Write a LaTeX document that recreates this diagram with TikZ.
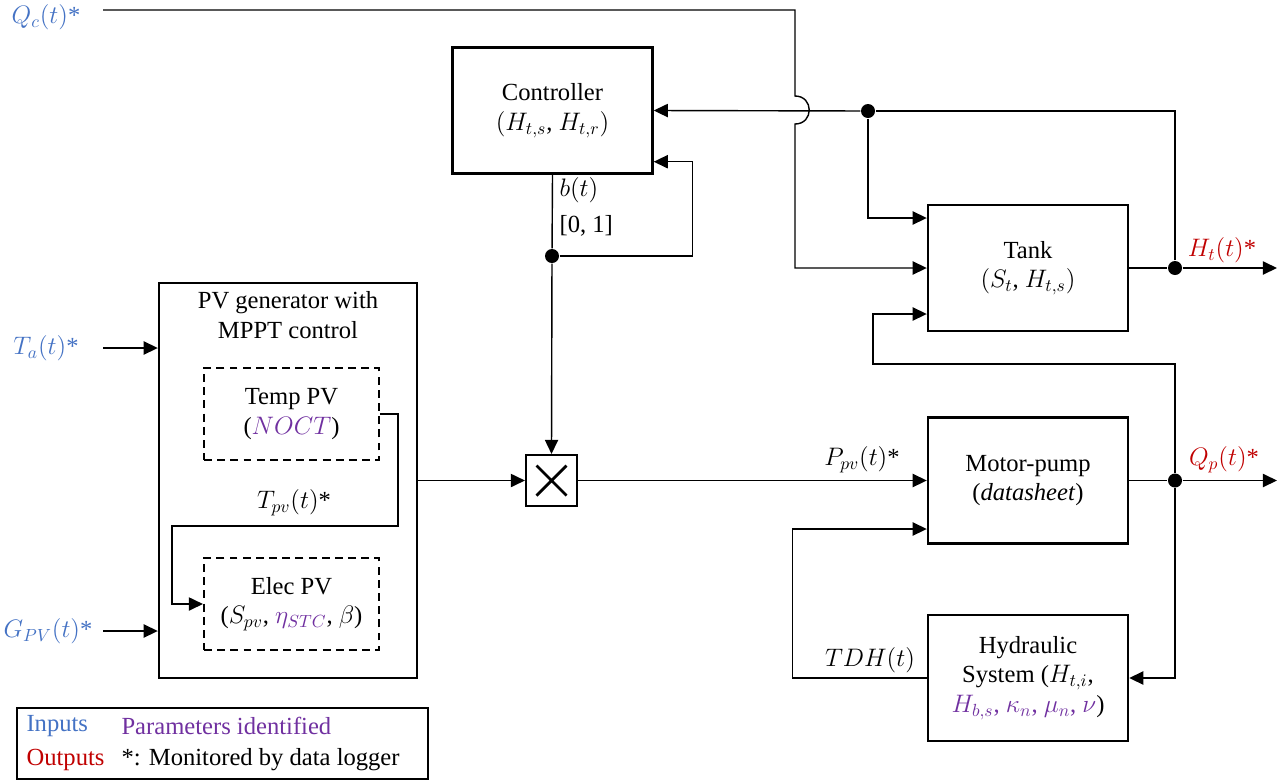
\documentclass[tikz,border=0pt]{standalone}
\usepackage{fontspec}
\setmainfont{Liberation Serif}
\usetikzlibrary{arrows.meta, positioning, calc}
\definecolor{inblue}{RGB}{68,114,196}
\definecolor{outred}{RGB}{192,0,0}
\definecolor{parpurple}{RGB}{112,48,160}

\begin{document}
\begin{tikzpicture}[x=0.02cm, y=-0.02cm, font=\fontsize{14}{17}\selectfont,
    >={Triangle[length=8pt,width=7.5pt]}, line width=0.8pt,
    blk/.style={draw, line width=1.4pt, minimum width=4cm, minimum height=2.52cm, align=center},
    dbox/.style={draw, line width=1.2pt, dash pattern=on 4.5pt off 3pt, minimum width=3.5cm, minimum height=1.84cm, align=center},
    dot/.style={circle, fill, inner sep=0pt, minimum size=0.28cm}]
    \useasboundingbox (0,0) rectangle (1279,782);
    % blocks
    \node[blk] (ctrl) at (552.5,110.5) {Controller\\$(H_{t,s}$, $H_{t,r})$};
    \node[blk] (tank) at (1028,268) {Tank\\$(S_t$, $H_{t,s})$};
    \node[blk] (pump) at (1028,480.5) {Motor-pump\\(\textit{datasheet})};
    \node[blk] (hyd) at (1028,678) {Hydraulic\\System ($H_{t,i}$,\\\textcolor{parpurple}{$H_{b,s}$, $\kappa_n$, $\mu_n$, $\nu$})};
    \node[draw, line width=1.4pt, minimum width=5.16cm, minimum height=7.9cm] (pv) at (288,480.5) {};
    \node[align=center, below=2pt of pv.north] (pvtitle) {PV generator with\\MPPT control};
    \node[dbox] (temp) at (291.5,414) {Temp PV\\(\textcolor{parpurple}{$NOCT$})};
    \node[dbox] (elec) at (291.5,604) {Elec PV\\($S_{pv}$, \textcolor{parpurple}{$\eta_{STC}$}, $\beta$)};
    \node[draw, line width=1.2pt, minimum size=1.02cm, inner sep=0pt] (mult) at (551.5,480.5) {};
    \draw[line width=1.6pt] ($(mult.center)+(-15,-15)$) -- ($(mult.center)+(15,15)$)
        ($(mult.center)+(-15,15)$) -- ($(mult.center)+(15,-15)$);
    % junctions
    \node[dot] (jc) at (868,111) {};
    \node[dot] (jb) at (552,256) {};
    \node[dot] (jt) at (1175,268) {};
    \node[dot] (jq) at (1175,480.5) {};
    % signals
    \node[text=inblue] (qc) at (46,17) {$Q_c(t)$*};
    \node[text=inblue] (ta) at (46,348) {$T_a(t)$*};
    \node[text=inblue] (gpv) at (48,631) {$G_{PV}(t)$*};
    \node[text=outred] (htl) at (1222,250) {$H_t(t)$*};
    \node[text=outred] (qpl) at (1224,460) {$Q_p(t)$*};
    \node (ppvl) at (862,460) {$P_{pv}(t)$*};
    \node (tdhl) at (870,660) {$TDH(t)$};
    \node (tpvl) at (294,503) {$T_{pv}(t)$*};
    \node[anchor=west] (bl) at (553,190) {$b(t)$};
    \node[anchor=west] (rangel) at (553,226) {[0, 1]};
    \coordinate (qcin) at (103,10);
    \coordinate (tain) at (103,348);
    \coordinate (gpvin) at (103,631);
    \coordinate (hopa) at (795,96);
    \coordinate (hopb) at (795,124);
    \coordinate (htout) at (1277,268);
    \coordinate (qpout) at (1277,480.5);
    \coordinate (tankret) at (873,364);
    \coordinate (tpvc) at (398,526);
    % connectors
    \draw[->] (qcin) -| (hopa) .. controls +(19,0) and +(19,0) .. (hopb) |- (tank.west);
    \draw (tank.east) -- (jt);
    \draw[->] (jt) -- (htout);
    \draw (jt) |- (jc);
    \draw[->] (jc) -- (ctrl.east);
    \draw[->] (jc) |- ($(tank.west)+(0,-50)$);
    \draw (ctrl.south) -- (jb);
    \draw[->] (jb) -- (mult.north);
    \draw[->] (jb) -| ($(ctrl.south east)+(39,-13)$) -- ($(ctrl.south east)+(0,-13)$);
    \draw[->] (pv.east) -- (mult.west);
    \draw[->] (mult.east) -- (pump.west);
    \draw (pump.east) -- (jq);
    \draw[->] (jq) -- (qpout);
    \draw[->] (jq) |- (hyd.east);
    \draw[->] (jq) |- (tankret) |- ($(tank.west)+(0,46)$);
    \draw[->] (hyd.west) -- ++(-134,0) |- ($(pump.west)+(0,48.5)$);
    \draw[->] (temp.east) -| (tpvc) -| ($(elec.west)+(-31,0)$) -- (elec.west);
    \draw[->] (tain) -- (pv.west |- tain);
    \draw[->] (gpvin) -- (pv.west |- gpvin);
    % legend
    \node[draw, line width=1.4pt, minimum width=8.22cm, minimum height=1.42cm] (legend) at (222.5,743.5) {};
    \node[anchor=west, text=inblue] (lgin) at (20,726) {Inputs};
    \node[anchor=west, text=parpurple] (lgpar) at (115,726) {Parameters identified};
    \node[anchor=west, text=outred] (lgout) at (20,760) {Outputs};
    \node[anchor=west] (lgmon) at (115,760) {*: Monitored by data logger};
\end{tikzpicture}
\end{document}
